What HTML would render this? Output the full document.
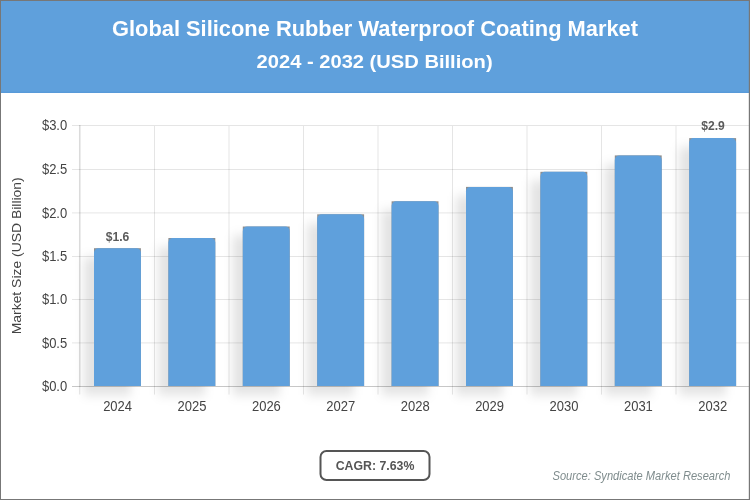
<!DOCTYPE html>
<html lang="en"><head><meta charset="utf-8"><title>Global Silicone Rubber Waterproof Coating Market</title>
<style>
html,body{margin:0;padding:0;background:#fff;}
body{width:750px;height:500px;overflow:hidden;font-family:"Liberation Sans",sans-serif;}
svg{display:block;}
text{font-family:"Liberation Sans",sans-serif;}
.t1{font-weight:bold;font-size:22px;fill:#fff;}
  .t2{font-weight:bold;font-size:18.2px;fill:#fff;}
.tick{font-size:13px;fill:#444;}
.dl{font-size:12.5px;font-weight:bold;fill:#5a5a5a;}
.cagr{font-size:13.3px;font-weight:bold;fill:#555;}
.src{font-size:12px;font-style:italic;fill:#7f8c8d;}
</style></head><body>
<svg width="750" height="500" viewBox="0 0 750 500">
<defs>
<filter id="sh" x="-80%" y="-30%" width="260%" height="160%"><feGaussianBlur stdDeviation="5 5.35"/></filter>
</defs>
<rect x="0" y="0" width="750" height="500" fill="#fff"/>
<rect x="0" y="0" width="750" height="92.8" fill="#5fa0dc"/>
<rect x="0" y="91.8" width="750" height="1" fill="#4f94d6"/>
<text class="t1" x="375" y="36.4" text-anchor="middle" textLength="526" lengthAdjust="spacingAndGlyphs">Global Silicone Rubber Waterproof Coating Market</text>
<text class="t2" x="374.6" y="68.3" text-anchor="middle" textLength="236" lengthAdjust="spacingAndGlyphs">2024 - 2032 (USD Billion)</text>

<g stroke="#000" stroke-opacity="0.1" stroke-width="1" fill="none">
<line x1="72" y1="125.50" x2="750" y2="125.50"/>
<line x1="72" y1="169.50" x2="750" y2="169.50"/>
<line x1="72" y1="212.90" x2="750" y2="212.90"/>
<line x1="72" y1="256.50" x2="750" y2="256.50"/>
<line x1="72" y1="299.50" x2="750" y2="299.50"/>
<line x1="72" y1="342.90" x2="750" y2="342.90"/>
<line x1="72" y1="386.50" x2="750" y2="386.50"/>
<line x1="154.50" y1="126.00" x2="154.50" y2="394.6"/>
<line x1="229.00" y1="126.00" x2="229.00" y2="394.6"/>
<line x1="303.50" y1="126.00" x2="303.50" y2="394.6"/>
<line x1="378.00" y1="126.00" x2="378.00" y2="394.6"/>
<line x1="452.50" y1="126.00" x2="452.50" y2="394.6"/>
<line x1="527.00" y1="126.00" x2="527.00" y2="394.6"/>
<line x1="601.50" y1="126.00" x2="601.50" y2="394.6"/>
<line x1="676.00" y1="126.00" x2="676.00" y2="394.6"/>
<line x1="750.50" y1="126.00" x2="750.50" y2="394.6"/>
</g>
<line x1="72" y1="386.50" x2="750" y2="386.50" stroke="#000" stroke-opacity="0.13"/>
<line x1="79.75" y1="125.00" x2="79.75" y2="387.00" stroke="#000" stroke-opacity="0.14" stroke-width="1.6"/>
<line x1="79.7" y1="387.00" x2="79.7" y2="394.6" stroke="#000" stroke-opacity="0.1" stroke-width="1.2"/>
<text class="tick" transform="translate(67.20,130.40) scale(1,1.07)" text-anchor="end">$3.0</text>
<text class="tick" transform="translate(67.20,174.40) scale(1,1.07)" text-anchor="end">$2.5</text>
<text class="tick" transform="translate(67.20,217.80) scale(1,1.07)" text-anchor="end">$2.0</text>
<text class="tick" transform="translate(67.20,261.40) scale(1,1.07)" text-anchor="end">$1.5</text>
<text class="tick" transform="translate(67.20,304.40) scale(1,1.07)" text-anchor="end">$1.0</text>
<text class="tick" transform="translate(67.20,347.80) scale(1,1.07)" text-anchor="end">$0.5</text>
<text class="tick" transform="translate(67.20,391.40) scale(1,1.07)" text-anchor="end">$0.0</text>
<text class="tick" transform="translate(21.2,255.8) rotate(-90)" text-anchor="middle" textLength="157" lengthAdjust="spacingAndGlyphs">Market Size (USD Billion)</text>
<rect x="84.00" y="257.20" width="46.9" height="137.80" fill="#000" fill-opacity="0.11" filter="url(#sh)"/>
<rect x="158.40" y="247.00" width="46.9" height="148.00" fill="#000" fill-opacity="0.11" filter="url(#sh)"/>
<rect x="232.80" y="235.50" width="46.9" height="159.50" fill="#000" fill-opacity="0.11" filter="url(#sh)"/>
<rect x="307.20" y="223.30" width="46.9" height="171.70" fill="#000" fill-opacity="0.11" filter="url(#sh)"/>
<rect x="381.60" y="210.30" width="46.9" height="184.70" fill="#000" fill-opacity="0.11" filter="url(#sh)"/>
<rect x="456.00" y="195.90" width="46.9" height="199.10" fill="#000" fill-opacity="0.11" filter="url(#sh)"/>
<rect x="530.40" y="180.80" width="46.9" height="214.20" fill="#000" fill-opacity="0.11" filter="url(#sh)"/>
<rect x="604.80" y="164.40" width="46.9" height="230.60" fill="#000" fill-opacity="0.11" filter="url(#sh)"/>
<rect x="679.20" y="147.10" width="46.9" height="247.90" fill="#000" fill-opacity="0.11" filter="url(#sh)"/>
<rect x="94.00" y="248.20" width="46.9" height="137.80" fill="#8e8e8e"/>
<path d="M94.00 386.00V252.80a4.3 4.60 0 0 1 4.3 -4.60h38.30a4.3 4.60 0 0 1 4.3 4.60V386.00z" fill="#5fa0dc"/>
<text class="tick" transform="translate(117.60,411.00) scale(1,1.07)" text-anchor="middle">2024</text>
<rect x="168.40" y="238.00" width="46.9" height="148.00" fill="#8e8e8e"/>
<path d="M168.40 386.00V242.60a4.3 4.60 0 0 1 4.3 -4.60h38.30a4.3 4.60 0 0 1 4.3 4.60V386.00z" fill="#5fa0dc"/>
<text class="tick" transform="translate(192.00,411.00) scale(1,1.07)" text-anchor="middle">2025</text>
<rect x="242.80" y="226.50" width="46.9" height="159.50" fill="#8e8e8e"/>
<path d="M242.80 386.00V231.10a4.3 4.60 0 0 1 4.3 -4.60h38.30a4.3 4.60 0 0 1 4.3 4.60V386.00z" fill="#5fa0dc"/>
<text class="tick" transform="translate(266.40,411.00) scale(1,1.07)" text-anchor="middle">2026</text>
<rect x="317.20" y="214.30" width="46.9" height="171.70" fill="#8e8e8e"/>
<path d="M317.20 386.00V218.90a4.3 4.60 0 0 1 4.3 -4.60h38.30a4.3 4.60 0 0 1 4.3 4.60V386.00z" fill="#5fa0dc"/>
<text class="tick" transform="translate(340.80,411.00) scale(1,1.07)" text-anchor="middle">2027</text>
<rect x="391.60" y="201.30" width="46.9" height="184.70" fill="#8e8e8e"/>
<path d="M391.60 386.00V205.90a4.3 4.60 0 0 1 4.3 -4.60h38.30a4.3 4.60 0 0 1 4.3 4.60V386.00z" fill="#5fa0dc"/>
<text class="tick" transform="translate(415.20,411.00) scale(1,1.07)" text-anchor="middle">2028</text>
<rect x="466.00" y="186.90" width="46.9" height="199.10" fill="#8e8e8e"/>
<path d="M466.00 386.00V191.50a4.3 4.60 0 0 1 4.3 -4.60h38.30a4.3 4.60 0 0 1 4.3 4.60V386.00z" fill="#5fa0dc"/>
<text class="tick" transform="translate(489.60,411.00) scale(1,1.07)" text-anchor="middle">2029</text>
<rect x="540.40" y="171.80" width="46.9" height="214.20" fill="#8e8e8e"/>
<path d="M540.40 386.00V176.40a4.3 4.60 0 0 1 4.3 -4.60h38.30a4.3 4.60 0 0 1 4.3 4.60V386.00z" fill="#5fa0dc"/>
<text class="tick" transform="translate(564.00,411.00) scale(1,1.07)" text-anchor="middle">2030</text>
<rect x="614.80" y="155.40" width="46.9" height="230.60" fill="#8e8e8e"/>
<path d="M614.80 386.00V160.00a4.3 4.60 0 0 1 4.3 -4.60h38.30a4.3 4.60 0 0 1 4.3 4.60V386.00z" fill="#5fa0dc"/>
<text class="tick" transform="translate(638.40,411.00) scale(1,1.07)" text-anchor="middle">2031</text>
<rect x="689.20" y="138.10" width="46.9" height="247.90" fill="#8e8e8e"/>
<path d="M689.20 386.00V142.70a4.3 4.60 0 0 1 4.3 -4.60h38.30a4.3 4.60 0 0 1 4.3 4.60V386.00z" fill="#5fa0dc"/>
<text class="tick" transform="translate(712.80,411.00) scale(1,1.07)" text-anchor="middle">2032</text>
<text class="dl" transform="translate(117.5,241.2) scale(1,1.07)" text-anchor="middle" textLength="23.6" lengthAdjust="spacingAndGlyphs">$1.6</text>
<text class="dl" transform="translate(713,129.8) scale(1,1.07)" text-anchor="middle" textLength="23.6" lengthAdjust="spacingAndGlyphs">$2.9</text>
<rect x="320.5" y="451" width="109" height="29" rx="6" ry="6" fill="#fff" stroke="#555" stroke-width="2"/>
<text class="cagr" x="375" y="469.8" text-anchor="middle" textLength="78.7" lengthAdjust="spacingAndGlyphs">CAGR: 7.63%</text>
<text class="src" x="730.5" y="480.2" text-anchor="end" textLength="178" lengthAdjust="spacingAndGlyphs">Source: Syndicate Market Research</text>
<rect x="0.5" y="0.5" width="749" height="499" fill="none" stroke="#777" stroke-width="1"/>
<rect x="748.8" y="0" width="1.2" height="500" fill="#777"/>
</svg>
</body></html>
